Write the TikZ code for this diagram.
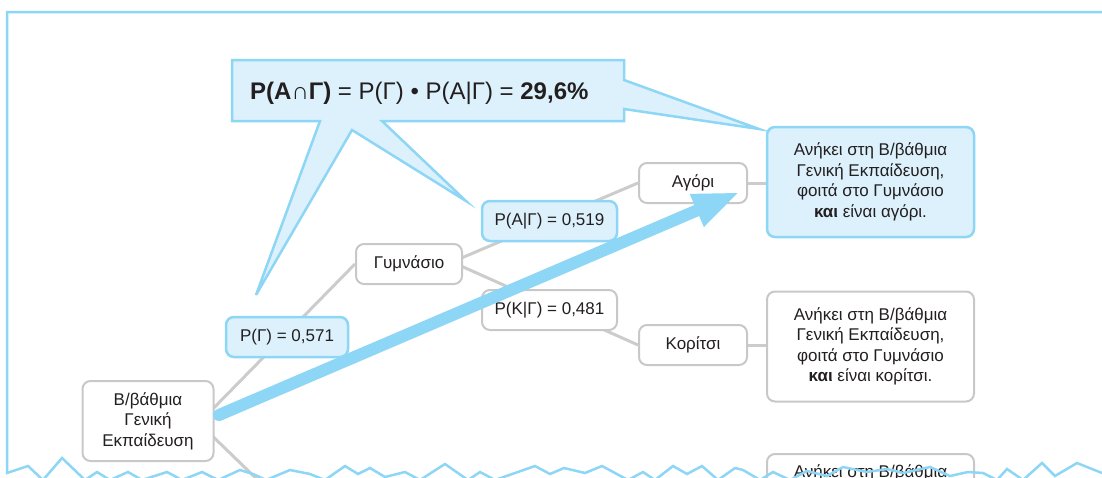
\documentclass[tikz,border=0pt]{standalone}
\usepackage{fontspec}
\setmainfont{Liberation Sans}
\usetikzlibrary{arrows.meta,backgrounds}
\definecolor{skyline}{HTML}{8DD6F5}
\definecolor{skyfill}{HTML}{DCF1FC}
\definecolor{boxgray}{HTML}{C8C8C8}
\definecolor{edgegray}{HTML}{CCCCCC}
\definecolor{ink}{HTML}{231F20}
\tikzset{
  treebox/.style={draw=boxgray, line width=2pt, rounded corners=8pt, fill=white, text=ink,
    font=\fontsize{17}{20.5}\selectfont, align=center, minimum height=40pt},
  probbox/.style={treebox, draw=skyline, fill=skyfill, line width=2.5pt},
  leaf/.style={treebox, minimum width=207pt, minimum height=110pt},
  branch/.style={draw=edgegray, line width=3pt},
  bigarrow/.style={draw=skyline, line width=12pt, line cap=round, -{Triangle[length=47pt,width=32pt]}},
  sheetframe/.style={draw=skyline, line width=2.5pt},
  callout/.style={draw=skyline, fill=skyfill, line width=2.5pt, line join=miter}
}
\begin{document}
\begin{tikzpicture}[x=1pt,y=-1pt]
  \useasboundingbox (0,0) rectangle (1102,477);
  \clip (0,0) rectangle (1102,477);

  \node[treebox, minimum width=131pt, minimum height=80pt] (root) at (148,421) {Β/βάθμια\\Γενική\\Εκπαίδευση};
  \node[treebox, minimum width=106pt] (gym) at (409,264) {Γυμνάσιο};
  \node[probbox, minimum width=122pt] (pG) at (287,337) {P(Γ) = 0,571};
  \node[probbox, minimum width=135pt] (pAG) at (549.5,221) {P(A|Γ) = 0,519};
  \node[treebox, minimum width=135pt] (pKG) at (549.5,310) {P(K|Γ) = 0,481};
  \node[treebox, minimum width=108pt] (boy) at (693,183) {Αγόρι};
  \node[treebox, minimum width=108pt] (girl) at (693,345) {Κορίτσι};
  \node[leaf, draw=skyline, fill=skyfill, line width=2.5pt] (leafA) at (870.5,182)
    {Ανήκει στη Β/βάθμια\\Γενική Εκπαίδευση,\\φοιτά στο Γυμνάσιο\\\textbf{και} είναι αγόρι.};
  \node[leaf] (leafB) at (870.5,346.5)
    {Ανήκει στη Β/βάθμια\\Γενική Εκπαίδευση,\\φοιτά στο Γυμνάσιο\\\textbf{και} είναι κορίτσι.};
  \node[leaf, anchor=north, text height=20pt, text depth=86pt] (leafC) at (870.5,453) {Ανήκει στη Β/βάθμια};

  \coordinate (rootout) at (199,423);
  \coordinate (gymout) at (452,262);
  \coordinate (down) at (300,521);
  \begin{scope}[on background layer]
    \draw[branch] (rootout) -- (gym.west);
    \draw[branch] (rootout) -- (down);
    \draw[branch] (gymout) -- (boy.west);
    \draw[branch] (gymout) -- (girl.west);
    \draw[branch] (boy.east) -- (boy.east -| leafA.west);
    \draw[branch] (girl.east) -- (girl.east -| leafB.west);
  \end{scope}

  \coordinate (arrowstart) at (219,415);
  \coordinate (arrowtip) at (740,192);
  \draw[bigarrow] (arrowstart) -- (arrowtip);

  \draw[callout] (232,60) -- (624,60) -- (624,80) -- (759,129) -- (624,109) -- (624,121) -- (382,121)
    -- (466,201) -- (352,130) -- (256,295) -- (320,121) -- (232,121) -- cycle;
  \node[anchor=base west, inner sep=0, text=ink, font=\fontsize{24}{28}\selectfont] (formula) at (250,99)
    {\textbf{P(A∩Γ)} = P(Γ) • P(A|Γ) = \textbf{29,6\%}};

  \draw[sheetframe] (1102,12) -- (7,12) -- (7,473) -- (28,466) -- (43,480) -- (62,458) -- (85,480) -- (97,472)
    -- (110,480) -- (128,472) -- (142,480) -- (167,472) -- (182,480) -- (202,472) -- (218,480) -- (240,470)
    -- (253,474) -- (266,480) -- (290,470) -- (310,474) -- (325,480) -- (345,466) -- (358,474) -- (370,468)
    -- (385,477) -- (405,472) -- (420,480) -- (445,464) -- (468,480) -- (480,472) -- (495,480) -- (535,466)
    -- (550,474) -- (564,468) -- (585,473) -- (602,466) -- (628,480) -- (643,472) -- (655,480) -- (673,466)
    -- (687,474) -- (702,466) -- (718,480) -- (735,468) -- (743,470) -- (760,480) -- (773,472) -- (790,480)
    -- (807,471) -- (827,476) -- (843,467) -- (867,472) -- (887,469) -- (903,473) -- (930,467) -- (950,476)
    -- (968,472) -- (983,473) -- (997,480) -- (1007,469) -- (1023,480) -- (1042,463) -- (1055,476)
    -- (1077,463) -- (1102,473);
\end{tikzpicture}
\end{document}
